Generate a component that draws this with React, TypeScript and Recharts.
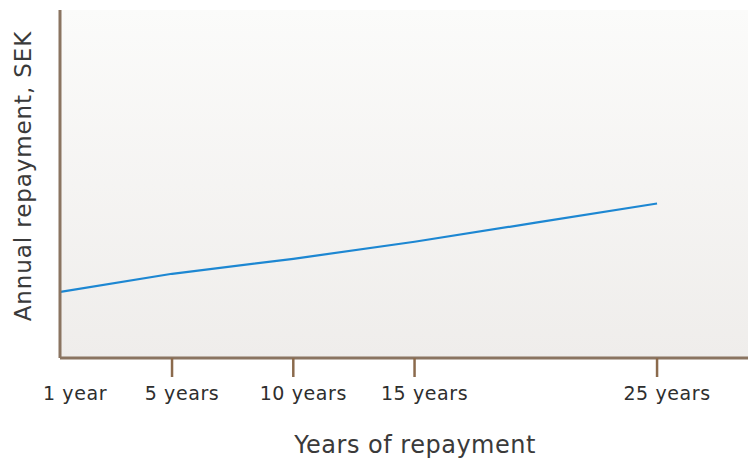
import { CartesianGrid, Line, LineChart, XAxis, YAxis } from 'recharts';

import React from 'react';

const years = [0.4, 5, 10, 15, 20, 25];
const repayment = [19.0, 24.2, 28.5, 33.4, 38.9, 44.4];
const tickYears = [1, 5, 10, 15, 25];
const tickLabels: Record<number, string> = { 1: '1 year', 5: '5 years', 10: '10 years', 15: '15 years', 25: '25 years' };

const data = years.map((y, i) => ({ year: y, value: repayment[i] }));

const FONT = '"DejaVu Sans", Arial, sans-serif';
const AXIS = '#8a7461';

const XTick = (props: any) => {
    const { x, y, payload } = props;
    const v = payload.value;
    // labels sit a little right of their tick marks in the original
    const dx = v === 1 ? 0 : 10;
    return (
        <g>
            {v !== 1 && <line x1={x} x2={x} y1={y} y2={y + 19} stroke="#8b6a4c" strokeWidth={2.5} />}
            <text x={x + dx} y={y + 35} textAnchor="middle" dominantBaseline="central" fontSize={19} fill="#2e2e2e" fontFamily={FONT} letterSpacing={0.6}>
                {tickLabels[v]}
            </text>
        </g>
    );
};

const YLabel = (props: any) => {
    const { viewBox } = props;
    const cx = viewBox.x + 23;
    const cy = viewBox.y + viewBox.height / 2 - 8;
    return (
        <text x={cx} y={cy} transform={`rotate(-90, ${cx}, ${cy})`} textAnchor="middle" dominantBaseline="central" fontSize={23} fill="#3a3a3a" fontFamily={FONT} letterSpacing={0.9}>
            Annual repayment, SEK
        </text>
    );
};

const XLabel = (props: any) => {
    const { viewBox } = props;
    const cx = viewBox.x + viewBox.width / 2 + 11;
    const cy = viewBox.y + 87;
    return (
        <text x={cx} y={cy} textAnchor="middle" dominantBaseline="central" fontSize={24} fill="#3a3a3a" fontFamily={FONT} letterSpacing={0.5}>
            Years of repayment
        </text>
    );
};

export default (): JSX.Element => {
    return (
        <div style={{ position: 'absolute', left: 0, top: 0 }}>
            <LineChart width={748} height={461} data={data} margin={{ top: 10, right: 0, left: 0, bottom: 0 }}>
                <defs>
                    <linearGradient id="bg" x1="0" y1="0" x2="0" y2="1">
                        <stop offset="0%" stopColor="#fbfbfa" />
                        <stop offset="100%" stopColor="#efedeb" />
                    </linearGradient>
                </defs>
                <CartesianGrid horizontal={false} vertical={false} fill="url(#bg)" stroke="none" />
                <XAxis
                    dataKey="year"
                    type="number"
                    domain={[0.38, 28.75]}
                    allowDataOverflow
                    ticks={tickYears}
                    interval={0}
                    height={103}
                    tickSize={0}
                    tickMargin={0}
                    tickLine={false}
                    tick={<XTick />}
                    axisLine={{ stroke: AXIS, strokeWidth: 3 }}
                    label={<XLabel />}
                />
                <YAxis
                    type="number"
                    domain={[0, 100]}
                    width={60}
                    tick={false}
                    tickLine={false}
                    axisLine={{ stroke: AXIS, strokeWidth: 3 }}
                    label={<YLabel />}
                />
                <Line
                    type="linear"
                    dataKey="value"
                    stroke="#1d87d2"
                    strokeWidth={2.2}
                    dot={false}
                    activeDot={false}
                    isAnimationActive={false}
                />
            </LineChart>
        </div>
    );
};
